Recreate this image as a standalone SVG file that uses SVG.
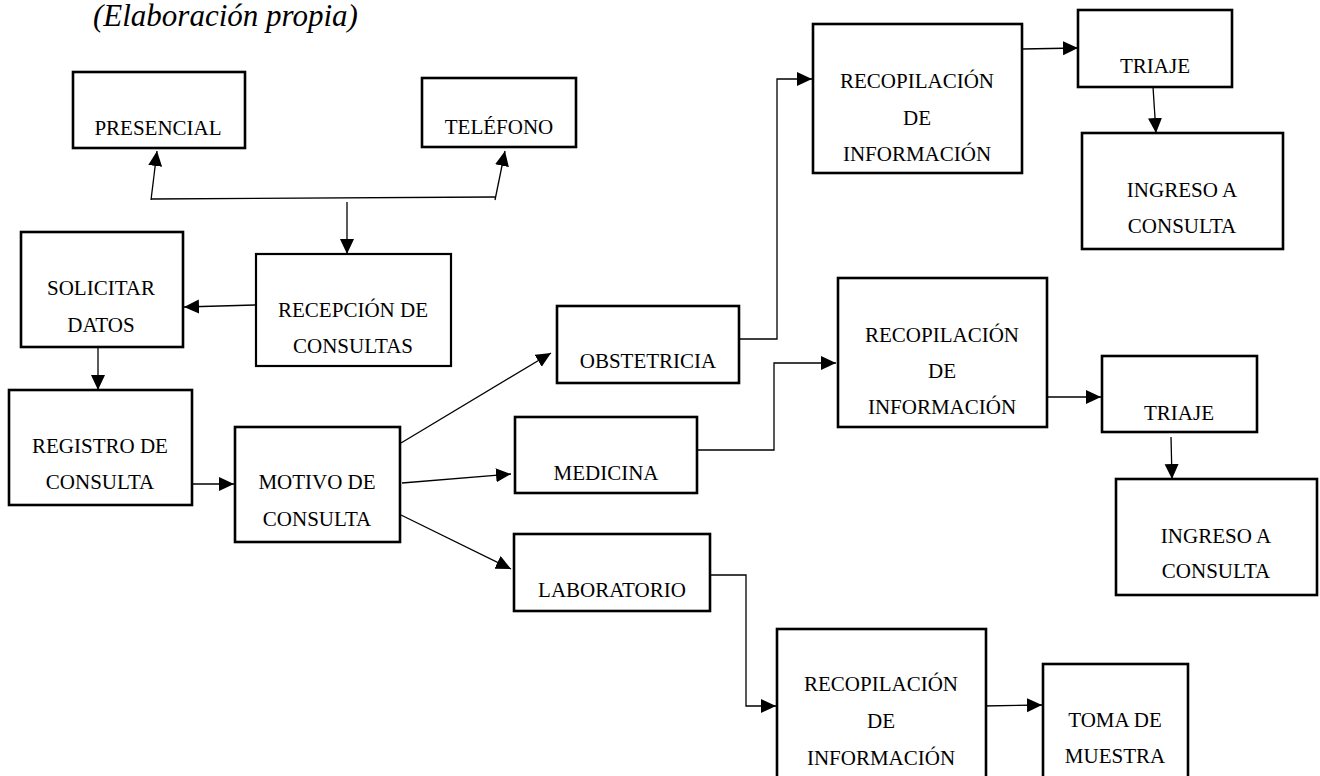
<svg xmlns="http://www.w3.org/2000/svg" width="1320" height="776" viewBox="0 0 1320 776">
<style>
.box{fill:#fff;stroke:#000;stroke-width:2.6}
.lbl{font-family:'Liberation Serif','DejaVu Serif',serif;font-size:21px;fill:#000;text-anchor:middle}
.ttl{font-family:'Liberation Serif','DejaVu Serif',serif;font-size:31px;font-style:italic;fill:#000}
.con{fill:none;stroke:#000;stroke-width:1.3}
</style>
<defs>
<marker id="ah" markerUnits="userSpaceOnUse" markerWidth="16" markerHeight="16" refX="15" refY="7" orient="auto">
<path d="M0,0 L15,7 L0,14 z" fill="#000"/>
</marker>
</defs>
<rect width="1320" height="776" fill="#fff"/>
<text class="ttl" x="93" y="26">(Elaboración propia)</text>

<g id="connectors">
<path class="con" d="M151,199 L495,197"/>
<path class="con" d="M151,200 L157,151" marker-end="url(#ah)"/>
<path class="con" d="M495,200 L505,151" marker-end="url(#ah)"/>
<path class="con" d="M347,202 L347,254" marker-end="url(#ah)"/>
<path class="con" d="M255,305 L184,307" marker-end="url(#ah)"/>
<path class="con" d="M98,344 L98,390" marker-end="url(#ah)"/>
<path class="con" d="M193,484 L234,484" marker-end="url(#ah)"/>
<path class="con" d="M401,443 L551,353" marker-end="url(#ah)"/>
<path class="con" d="M402,483 L511,474" marker-end="url(#ah)"/>
<path class="con" d="M401,515 L511,569" marker-end="url(#ah)"/>
<path class="con" d="M739,339 L777,339 L777,79 L812,79" marker-end="url(#ah)"/>
<path class="con" d="M696,450 L774,450 L774,363 L836,363" marker-end="url(#ah)"/>
<path class="con" d="M710,575 L746,575 L746,706 L776,706" marker-end="url(#ah)"/>
<path class="con" d="M1022,49 L1078,48" marker-end="url(#ah)"/>
<path class="con" d="M1153,87 L1156,133" marker-end="url(#ah)"/>
<path class="con" d="M1043,397 L1101,397" marker-end="url(#ah)"/>
<path class="con" d="M1171,437 L1172,479" marker-end="url(#ah)"/>
<path class="con" d="M983,706 L1042,705" marker-end="url(#ah)"/>
</g>

<g id="presencial"><rect class="box" x="73" y="72" width="172" height="76"/><text class="lbl" x="158" y="135">PRESENCIAL</text></g>
<g id="telefono"><rect class="box" x="422" y="78" width="154" height="69"/><text class="lbl" x="499" y="134">TELÉFONO</text></g>
<g id="recepcion"><rect class="box" x="256" y="254" width="195" height="112" style="stroke-width:2.2"/><text class="lbl" x="353" y="317">RECEPCIÓN DE</text><text class="lbl" x="353" y="353">CONSULTAS</text></g>
<g id="solicitar"><rect class="box" x="21" y="232" width="162" height="115"/><text class="lbl" x="101" y="295">SOLICITAR</text><text class="lbl" x="101" y="332">DATOS</text></g>
<g id="registro"><rect class="box" x="9" y="390" width="183" height="115"/><text class="lbl" x="100" y="453">REGISTRO DE</text><text class="lbl" x="100" y="489">CONSULTA</text></g>
<g id="motivo"><rect class="box" x="235" y="427" width="165" height="115"/><text class="lbl" x="317" y="489">MOTIVO DE</text><text class="lbl" x="317" y="526">CONSULTA</text></g>
<g id="obstetricia"><rect class="box" x="557" y="306" width="182" height="77"/><text class="lbl" x="648" y="368">OBSTETRICIA</text></g>
<g id="medicina"><rect class="box" x="515" y="417" width="182" height="76"/><text class="lbl" x="606" y="480">MEDICINA</text></g>
<g id="laboratorio"><rect class="box" x="514" y="534" width="196" height="77"/><text class="lbl" x="612" y="597">LABORATORIO</text></g>
<g id="recop1"><rect class="box" x="813" y="24" width="209" height="149"/><text class="lbl" x="917" y="88">RECOPILACIÓN</text><text class="lbl" x="917" y="125">DE</text><text class="lbl" x="917" y="161">INFORMACIÓN</text></g>
<g id="triaje1"><rect class="box" x="1078" y="10" width="154" height="77"/><text class="lbl" x="1155" y="73">TRIAJE</text></g>
<g id="ingreso1"><rect class="box" x="1082" y="133" width="201" height="116"/><text class="lbl" x="1182" y="197">INGRESO A</text><text class="lbl" x="1182" y="233">CONSULTA</text></g>
<g id="recop2"><rect class="box" x="838" y="278" width="209" height="149"/><text class="lbl" x="942" y="342">RECOPILACIÓN</text><text class="lbl" x="942" y="378">DE</text><text class="lbl" x="942" y="414">INFORMACIÓN</text></g>
<g id="triaje2"><rect class="box" x="1102" y="356" width="155" height="76"/><text class="lbl" x="1179" y="420">TRIAJE</text></g>
<g id="ingreso2"><rect class="box" x="1116" y="479" width="201" height="116"/><text class="lbl" x="1216" y="543">INGRESO A</text><text class="lbl" x="1216" y="578">CONSULTA</text></g>
<g id="recop3"><rect class="box" x="777" y="629" width="209" height="160"/><text class="lbl" x="881" y="691">RECOPILACIÓN</text><text class="lbl" x="881" y="728">DE</text><text class="lbl" x="881" y="765">INFORMACIÓN</text></g>
<g id="toma"><rect class="box" x="1043" y="664" width="145" height="125"/><text class="lbl" x="1115" y="727">TOMA DE</text><text class="lbl" x="1115" y="763">MUESTRA</text></g>
</svg>
